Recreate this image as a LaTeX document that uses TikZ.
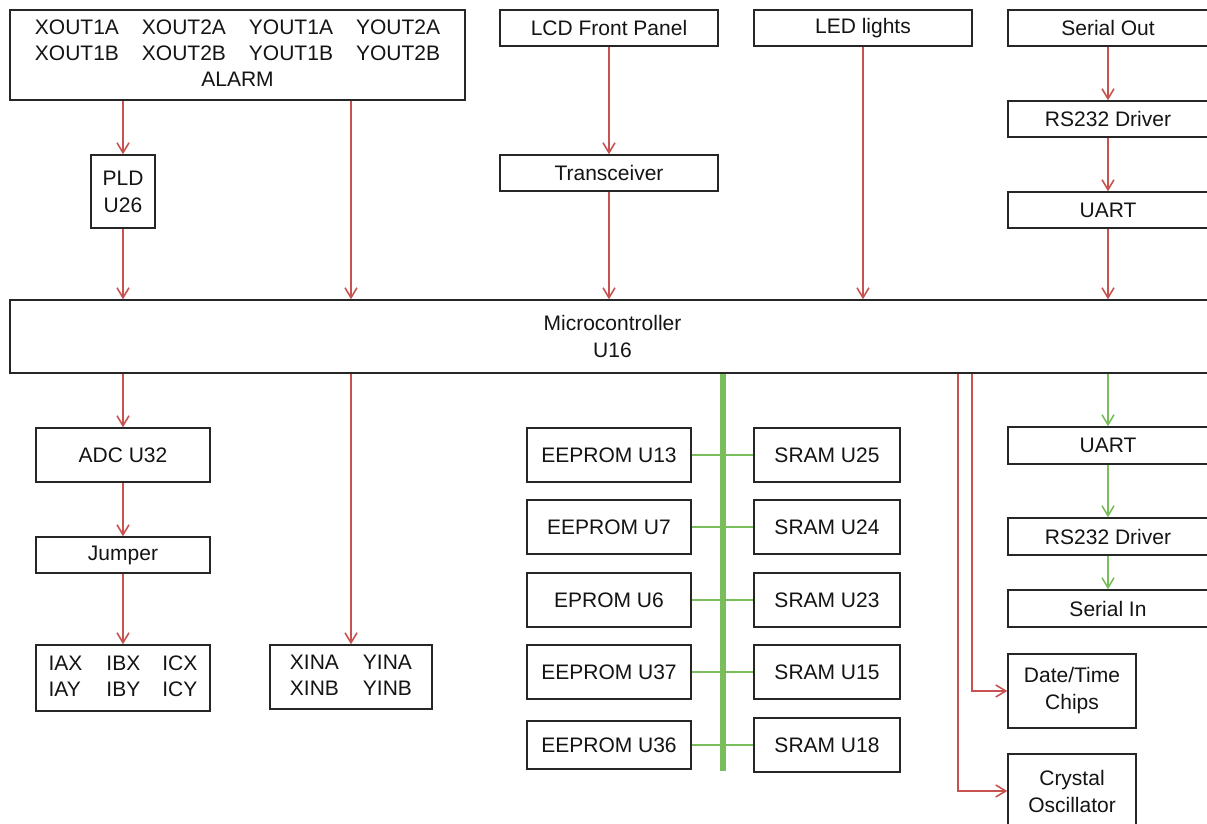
\documentclass[tikz,border=0pt]{standalone}
\usepackage{fontspec}
\setmainfont{Liberation Sans}
\usetikzlibrary{arrows.meta}
\definecolor{lnred}{RGB}{200,82,80}
\definecolor{lngreen}{RGB}{122,190,92}
\tikzset{
  blk/.style={draw=black!85, line width=1.4pt, fill=white, inner sep=0pt,
    align=center, text=black!92, font=\fontsize{21}{27}\selectfont},
  redln/.style={draw=lnred, line width=1.6pt, -{Straight Barb[length=10pt,width=12pt]}},
  grnln/.style={draw=lngreen, line width=1.6pt},
  grnarr/.style={grnln, -{Straight Barb[length=10pt,width=12pt]}},
  bus/.style={draw=lngreen, line width=5.5pt}
}
\begin{document}
\begin{tikzpicture}[x=1pt,y=-1pt]
  \useasboundingbox (0,0) rectangle (1207,824);
  \clip (0,0) rectangle (1207,824);
  % top row
  \node[blk, minimum width=455, minimum height=90] (top) at (237.5,55) {%
    \fontsize{21}{26}\selectfont
    \begin{tabular}{@{}c@{\hspace{23pt}}c@{\hspace{23pt}}c@{\hspace{23pt}}c@{}}
      XOUT1A & XOUT2A & YOUT1A & YOUT2A\\
      XOUT1B & XOUT2B & YOUT1B & YOUT2B\\
      \multicolumn{4}{c}{ALARM}
    \end{tabular}};
  \node[blk, minimum width=64, minimum height=73] (pld) at (123,191.5) {PLD\\U26};
  \node[blk, minimum width=218, minimum height=36] (lcd) at (609,28) {LCD Front Panel};
  \node[blk, minimum width=218, minimum height=36] (trx) at (609,173) {Transceiver};
  \node[blk, minimum width=218, minimum height=36] (led) at (863,28) {LED lights};
  \node[blk, minimum width=200, minimum height=36] (sout) at (1108,28) {Serial Out};
  \node[blk, minimum width=200, minimum height=36] (rsa) at (1108,119) {RS232 Driver};
  \node[blk, minimum width=200, minimum height=36] (uarta) at (1108,210) {UART};
  % microcontroller
  \node[blk, minimum width=1205, minimum height=73] (mcu) at (612.5,336.5) {Microcontroller\\U16};
  % left column
  \node[blk, minimum width=174, minimum height=54] (adc) at (123,455) {ADC U32};
  \node[blk, minimum width=174, minimum height=36] (jmp) at (123,555) {Jumper};
  \node[blk, minimum width=174, minimum height=66] (iab) at (123,678) {%
    \begin{tabular}{@{}l@{\hspace{24pt}}l@{\hspace{22pt}}l@{}}
      IAX & IBX & ICX\\[-1pt]
      IAY & IBY & ICY
    \end{tabular}};
  \node[blk, minimum width=162, minimum height=64] (xin) at (351,677) {%
    \begin{tabular}{@{}l@{\hspace{24pt}}l@{}}
      XINA & YINA\\[-1pt]
      XINB & YINB
    \end{tabular}};
  % memories
  \node[blk, minimum width=164, minimum height=54] (e13) at (609,455) {EEPROM U13};
  \node[blk, minimum width=164, minimum height=54] (e7) at (609,527) {EEPROM U7};
  \node[blk, minimum width=164, minimum height=54] (e6) at (609,600) {EPROM U6};
  \node[blk, minimum width=164, minimum height=54] (e37) at (609,672) {EEPROM U37};
  \node[blk, minimum width=164, minimum height=48] (e36) at (609,745) {EEPROM U36};
  \node[blk, minimum width=146, minimum height=54] (s25) at (827,455) {SRAM U25};
  \node[blk, minimum width=146, minimum height=54] (s24) at (827,527) {SRAM U24};
  \node[blk, minimum width=146, minimum height=54] (s23) at (827,600) {SRAM U23};
  \node[blk, minimum width=146, minimum height=54] (s15) at (827,672) {SRAM U15};
  \node[blk, minimum width=146, minimum height=54] (s18) at (827,745) {SRAM U18};
  % right column
  \node[blk, minimum width=200, minimum height=37] (uartb) at (1108,445.5) {UART};
  \node[blk, minimum width=200, minimum height=37] (rsb) at (1108,536.5) {RS232 Driver};
  \node[blk, minimum width=200, minimum height=37] (sin) at (1108,608.5) {Serial In};
  \node[blk, minimum width=128, minimum height=74] (date) at (1072,691) {Date/Time\\Chips};
  \node[blk, minimum width=128, minimum height=74] (xtal) at (1072,791) {Crystal\\Oscillator};
  \coordinate (busx) at (723,771);
  \coordinate (tdate) at (972,0);
  \coordinate (txtal) at (958,0);
  % connectors into the microcontroller
  \draw[redln] (top.south -| pld) -- (pld);
  \draw[redln] (pld) -- (mcu.north -| pld);
  \draw[redln] (top.south -| xin) -- (mcu.north -| xin);
  \draw[redln] (lcd) -- (trx);
  \draw[redln] (trx) -- (mcu.north -| trx);
  \draw[redln] (led) -- (mcu.north -| led);
  \draw[redln] (sout) -- (rsa);
  \draw[redln] (rsa) -- (uarta);
  \draw[redln] (uarta) -- (mcu.north -| uarta);
  % connectors out of the microcontroller
  \draw[redln] (mcu.south -| adc) -- (adc);
  \draw[redln] (adc) -- (jmp);
  \draw[redln] (jmp) -- (iab);
  \draw[redln] (mcu.south -| xin) -- (xin);
  \draw[redln] (mcu.south -| tdate) |- (date.west);
  \draw[redln] (mcu.south -| txtal) |- (xtal.west);
  \draw[grnarr] (mcu.south -| uartb) -- (uartb);
  \draw[grnarr] (uartb) -- (rsb);
  \draw[grnarr] (rsb) -- (sin);
  % memory bus
  \draw[grnln] (e13) -- (s25);
  \draw[grnln] (e7) -- (s24);
  \draw[grnln] (e6) -- (s23);
  \draw[grnln] (e37) -- (s15);
  \draw[grnln] (e36) -- (s18);
  \draw[bus] (mcu.south -| busx) -- (busx);
\end{tikzpicture}
\end{document}
